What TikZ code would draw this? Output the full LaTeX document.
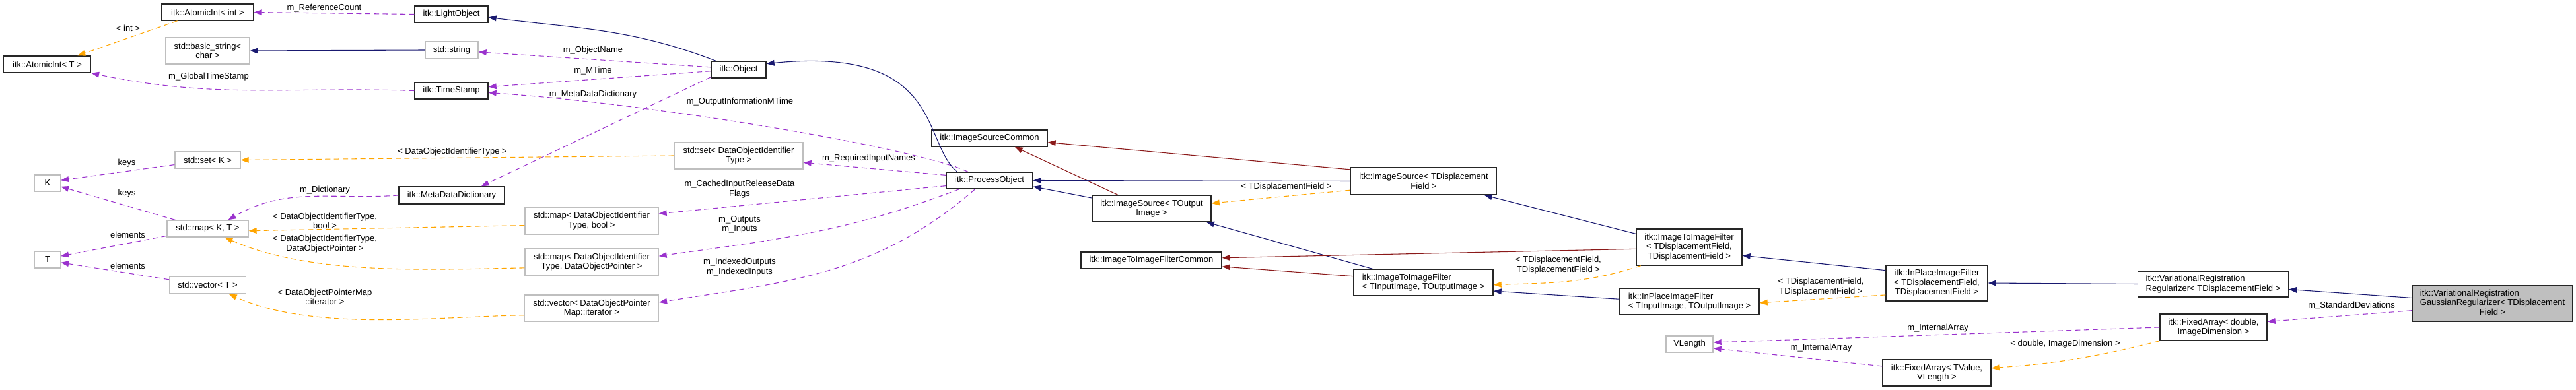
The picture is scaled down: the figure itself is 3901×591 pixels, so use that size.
\documentclass[tikz,border=0pt]{standalone}
\usepackage{fontspec}
\setmainfont{Liberation Sans}
\usetikzlibrary{arrows.meta}

\definecolor{dxblue}{HTML}{191970}
\definecolor{dxred}{HTML}{8B1A1A}
\definecolor{dxpurple}{HTML}{9A32CD}
\definecolor{dxorange}{HTML}{FFA500}
\definecolor{dxgray}{HTML}{BFBFBF}

\begin{document}
\begin{tikzpicture}[
        x=0.75pt, y=-0.75pt,
        font=\fontsize{9.75}{10.9}\selectfont,
        wh/.style 2 args={minimum width=#1*0.75pt, minimum height=#2*0.75pt},
        cls_node/.style={draw=black!85, line width=1pt, fill=white, rectangle, align=center, inner xsep=4pt, inner ysep=2pt},
        ext_node/.style={cls_node, draw=dxgray},
        main_node/.style={cls_node, fill=dxgray},
        inherit_edge/.style={-{Triangle[length=9pt,width=6.5pt]}, line width=0.8pt, draw=dxblue},
        prot_edge/.style={-{Triangle[length=9pt,width=6.5pt]}, line width=0.8pt, draw=dxred},
        usage_edge/.style={-{Triangle[length=9pt,width=6.5pt]}, line width=0.8pt, draw=dxpurple, dash pattern=on 6pt off 4pt},
        tmpl_edge/.style={-{Triangle[length=9pt,width=6.5pt]}, line width=0.8pt, draw=dxorange, dash pattern=on 6pt off 4pt},
        edge_label/.style={inner sep=0pt, align=center}
    ]
        \useasboundingbox (0,0) rectangle (3901,591);

        % Nodes
        \node (atomic_int_t) [cls_node, wh={132}{25}] at (71.5,97.5) {itk::AtomicInt< T >};
        \node (k) [ext_node, wh={39}{25}] at (72,277.5) {K};
        \node (t) [ext_node, wh={39}{25}] at (72,393.5) {T};

        \node (atomic_int_int) [cls_node, wh={139}{25}] at (314.5,18.5) {itk::AtomicInt< int >};
        \node (basic_string) [ext_node, wh={127}{40}] at (314.5,77) {std::basic\_string<\\char >};
        \node (set_k) [ext_node, wh={99}{25}] at (314.5,242.5) {std::set< K >};
        \node (map_kt) [ext_node, wh={123}{25}] at (314.5,346.5) {std::map< K, T >};
        \node (vector_t) [ext_node, wh={116}{26}] at (314.5,432) {std::vector< T >};

        \node (light_obj) [cls_node, wh={111}{25}] at (683.5,21.5) {itk::LightObject};
        \node (std_string) [ext_node, wh={80}{26}] at (684,76) {std::string};
        \node (time_stamp) [cls_node, wh={111}{25}] at (683.5,137.5) {itk::TimeStamp};
        \node (meta_dict) [cls_node, wh={160}{26}] at (684,296) {itk::MetaDataDictionary};

        \node (map_bool) [ext_node, wh={202}{41}] at (896,334.5) {std::map< DataObjectIdentifier\\Type, bool >};
        \node (map_dop) [ext_node, wh={202}{40}] at (896,397) {std::map< DataObjectIdentifier\\Type, DataObjectPointer >};
        \node (vector_dop) [ext_node, wh={203}{40}] at (896,467) {std::vector< DataObjectPointer\\Map::iterator >};

        \node (object) [cls_node, wh={83}{25}] at (1118.5,105.5) {itk::Object};
        \node (set_doit) [ext_node, wh={195}{40}] at (1118.5,236) {std::set< DataObjectIdentifier\\Type >};

        \node (process_obj) [cls_node, wh={131}{25}] at (1498.5,273.5) {itk::ProcessObject};
        \node (img_src_common) [cls_node, wh={175}{25}] at (1498.5,209.5) {itk::ImageSourceCommon};

        \node (img_src_out) [cls_node, wh={180}{40}] at (1744,316) {itk::ImageSource< TOutput\\Image >};
        \node (i2i_common) [cls_node, wh={213}{25}] at (1743.5,394.5) {itk::ImageToImageFilterCommon};

        \node (img_src_disp) [cls_node, wh={221}{41}] at (2156,274.5) {itk::ImageSource< TDisplacement\\Field >};
        \node (i2i_in) [cls_node, wh={211}{40}, align=left] at (2155.5,428) {itk::ImageToImageFilter\\< TInputImage, TOutputImage >};

        \node (i2i_disp) [cls_node, wh={160}{55}] at (2558,374.5) {itk::ImageToImageFilter\\< TDisplacementField,\\TDisplacementField >};
        \node (inplace_in) [cls_node, wh={211}{40}, align=left] at (2558.5,457) {itk::InPlaceImageFilter\\< TInputImage, TOutputImage >};
        \node (vlength) [ext_node, wh={71}{25}] at (2558.5,521.5) {VLength};

        \node (inplace_disp) [cls_node, wh={154}{54}] at (2933,429) {itk::InPlaceImageFilter\\< TDisplacementField,\\TDisplacementField >};
        \node (fixed_tv) [cls_node, wh={164}{40}] at (2933,565) {itk::FixedArray< TValue,\\VLength >};

        \node (var_reg) [cls_node, wh={228}{39}, align=left] at (3351.5,430.5) {itk::VariationalRegistration\\Regularizer< TDisplacementField >};
        \node (fixed_dbl) [cls_node, wh={162}{40}] at (3352,496) {itk::FixedArray< double,\\ImageDimension >};

        \node (gaussian) [main_node, wh={243}{54}] at (3774.5,460) {\begin{tabular}{@{}l@{}}itk::VariationalRegistration\\GaussianRegularizer< TDisplacement\\\multicolumn{1}{@{}c@{}}{Field >}\end{tabular}};

        % Arrows
        \draw [inherit_edge] (object.159) to[out=159, in=-7] (light_obj.-5);
        \draw [inherit_edge] (std_string.west) -- (basic_string.east);
        \draw [usage_edge] (light_obj.west) -- (atomic_int_int.east);
        \draw [tmpl_edge] (atomic_int_int.196) -- (atomic_int_t.16);
        \draw [usage_edge] (time_stamp.west) to[out=178, in=-12] (atomic_int_t.south east);
        \draw [usage_edge] (object.175) -- (std_string.-4);
        \draw [usage_edge] (object.183) -- (time_stamp.6);
        \draw [usage_edge] (object.195) -- (meta_dict.17);
        \draw [usage_edge] (process_obj.158) .. controls (1390,225) and (1000,158) .. (time_stamp.-3);
        \draw [inherit_edge] (process_obj.165) .. controls (1395,215) and (1430,70) .. (object.12);
        \draw [tmpl_edge] (set_doit.west) -- (set_k.east);
        \draw [usage_edge] (process_obj.173) -- (set_doit.-6);
        \draw [usage_edge] (process_obj.187) -- (map_bool.6);
        \draw [usage_edge] (process_obj.196) to[out=201, in=8] (map_dop.5);
        \draw [usage_edge] (process_obj.211) to[out=221, in=9] (vector_dop.5);
        \draw [tmpl_edge] (map_bool.184) -- (map_kt.-3);
        \draw [tmpl_edge] (map_dop.185) to[out=181, in=-24, looseness=0.8] (map_kt.-27);
        \draw [tmpl_edge] (vector_dop.186) to[out=181, in=-24, looseness=0.8] (vector_t.-23);
        \draw [usage_edge] (set_k.188) -- (k.12);
        \draw [usage_edge] (map_kt.165) -- (k.-15);
        \draw [usage_edge] (map_kt.190) -- (t.15);
        \draw [usage_edge] (vector_t.172) -- (t.-12);
        \draw [usage_edge] (meta_dict.west) to[out=184, in=30] (map_kt.23);
        \draw [prot_edge] (img_src_disp.171) -- (img_src_common.-4);
        \draw [prot_edge] (img_src_out.158) -- (img_src_common.-19);
        \draw [inherit_edge] (img_src_disp.west) -- (process_obj.east);
        \draw [inherit_edge] (img_src_out.170) -- (process_obj.-8);
        \draw [tmpl_edge] (img_src_disp.187) -- (img_src_out.5);
        \draw [inherit_edge] (i2i_in.165) -- (img_src_out.-14);
        \draw [prot_edge] (i2i_disp.182) -- (i2i_common.2);
        \draw [prot_edge] (i2i_in.175) -- (i2i_common.-5);
        \draw [inherit_edge] (i2i_disp.166) -- (img_src_disp.-13);
        \draw [tmpl_edge] (i2i_disp.201) to[out=198, in=2] (i2i_in.-2);
        \draw [inherit_edge] (inplace_in.178) -- (i2i_in.-7.5);
        \draw [inherit_edge] (inplace_disp.166) -- (i2i_disp.-9);
        \draw [tmpl_edge] (inplace_disp.193) -- (inplace_in.-1);
        \draw [inherit_edge] (var_reg.west) -- (inplace_disp.east);
        \draw [inherit_edge] (gaussian.176) -- (var_reg.-4);
        \draw [usage_edge] (gaussian.185) -- (fixed_dbl.6);
        \draw [usage_edge] (fixed_dbl.west) -- (vlength.4);
        \draw [usage_edge] (fixed_tv.173) -- (vlength.-10);
        \draw [tmpl_edge] (fixed_dbl.south west) to[bend left=5] (fixed_tv.5);

        % Labels
        \node (l_ref_count) [edge_label] at (491,12) {m\_ReferenceCount};
        \node (l_int) [edge_label] at (194,43) {< int >};
        \node (l_global_ts) [edge_label] at (316,116) {m\_GlobalTimeStamp};
        \node (l_object_name) [edge_label] at (898,76) {m\_ObjectName};
        \node (l_mtime) [edge_label] at (898,107) {m\_MTime};
        \node (l_meta_dict) [edge_label] at (898,143) {m\_MetaDataDictionary};
        \node (l_out_info) [edge_label] at (1120.5,154) {m\_OutputInformationMTime};
        \node (l_doit) [edge_label] at (685,230) {< DataObjectIdentifierType >};
        \node (l_req_names) [edge_label] at (1315.5,240) {m\_RequiredInputNames};
        \node (l_cached) [edge_label] at (1120,286.5) {m\_CachedInputReleaseData\\Flags};
        \node (l_outputs) [edge_label] at (1120,340.5) {m\_Outputs\\m\_Inputs};
        \node (l_indexed) [edge_label] at (1120,404.5) {m\_IndexedOutputs\\m\_IndexedInputs};
        \node (l_keys_a) [edge_label] at (192,247) {keys};
        \node (l_keys_b) [edge_label] at (192,293) {keys};
        \node (l_elem_a) [edge_label] at (193.5,356) {elements};
        \node (l_elem_b) [edge_label] at (193.5,403) {elements};
        \node (l_dict) [edge_label] at (492,288) {m\_Dictionary};
        \node (l_bool) [edge_label] at (492,335) {< DataObjectIdentifierType,\\bool >};
        \node (l_dop) [edge_label] at (492,369.5) {< DataObjectIdentifierType,\\DataObjectPointer >};
        \node (l_iter) [edge_label] at (492,450) {< DataObjectPointerMap\\::iterator >};
        \node (l_disp_field) [edge_label] at (1948,283) {< TDisplacementField >};
        \node (l_disp_pair_a) [edge_label] at (2360,401.5) {< TDisplacementField,\\TDisplacementField >};
        \node (l_disp_pair_b) [edge_label] at (2757.5,434.5) {< TDisplacementField,\\TDisplacementField >};
        \node (l_std_dev) [edge_label] at (3561,463) {m\_StandardDeviations};
        \node (l_int_arr_a) [edge_label] at (2934.5,497) {m\_InternalArray};
        \node (l_int_arr_b) [edge_label] at (2758,527) {m\_InternalArray};
        \node (l_dbl_dim) [edge_label] at (3127.5,521) {< double, ImageDimension >};
    \end{tikzpicture}
\end{document}
